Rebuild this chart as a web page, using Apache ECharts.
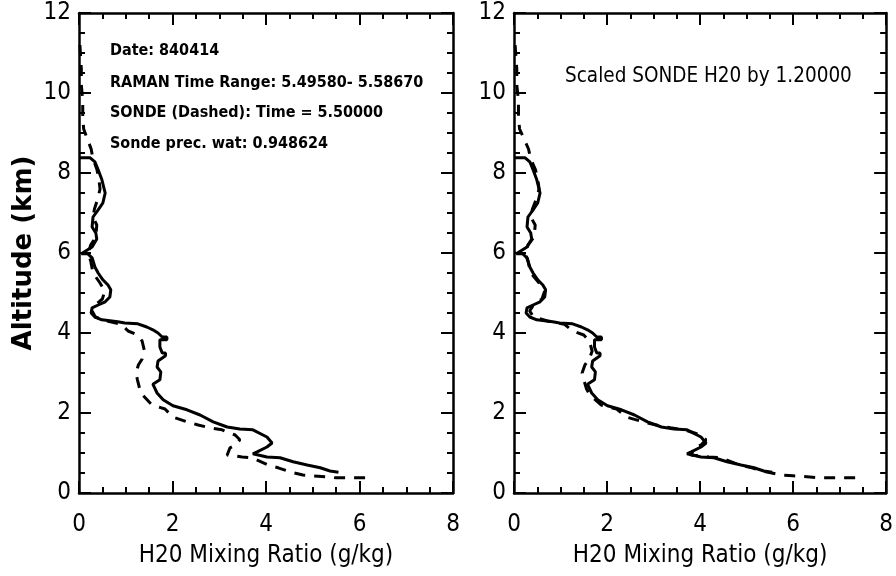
<!DOCTYPE html>
<html>
<head>
<meta charset="utf-8">
<script src="https://cdn.jsdelivr.net/npm/echarts@6/dist/echarts.min.js"></script>
<style>
html,body{margin:0;padding:0;background:#fff;}
#chart{width:896px;height:576px;}
</style>
</head>
<body>
<div id="chart"></div>
<script>
// ---- data ----
const xRange = [0, 8];
const yRange = [0, 12];
const tickStep = 2;

// RAMAN lidar water vapour mixing ratio (solid), g/kg vs altitude km
const ramanH2O = [0.00,0.24,0.34,0.41,0.49,0.56,0.51,0.41,0.30,0.28,0.36,0.38,0.28,0.05,0.19,0.28,0.34,0.41,0.51,0.62,0.68,0.66,0.56,0.41,0.28,0.26,0.34,0.49,0.83,0.98,1.26,1.45,1.58,1.69,1.78,1.88,1.88,1.73,1.73,1.78,1.85,1.85,1.69,1.67,1.75,1.73,1.58,1.67,1.80,2.01,2.31,2.59,2.87,3.17,3.44,3.72,4.02,4.13,4.02,3.81,3.72,4.02,4.30,4.58,4.88,5.16,5.37,5.55];
const ramanAlt = [8.38,8.38,8.28,8.08,7.83,7.50,7.25,7.08,6.90,6.65,6.50,6.35,6.15,5.98,5.98,5.88,5.65,5.50,5.33,5.20,5.08,4.90,4.78,4.70,4.63,4.50,4.40,4.33,4.28,4.25,4.23,4.15,4.08,4.00,3.90,3.90,3.83,3.83,3.65,3.50,3.50,3.43,3.30,3.15,3.03,2.83,2.72,2.50,2.33,2.18,2.08,1.95,1.78,1.65,1.60,1.58,1.40,1.25,1.15,1.03,0.98,0.90,0.88,0.78,0.70,0.63,0.55,0.52];

// SONDE water vapour mixing ratio (dashed)
const sondeH2O = [0.02,0.05,0.05,0.08,0.08,0.10,0.18,0.26,0.30,0.38,0.42,0.45,0.40,0.33,0.30,0.38,0.36,0.25,0.20,0.25,0.30,0.45,0.55,0.50,0.35,0.28,0.35,0.60,0.90,1.05,1.25,1.35,1.40,1.35,1.27,1.22,1.25,1.30,1.36,1.56,1.84,2.01,2.31,2.55,2.80,3.06,3.34,3.44,3.35,3.23,3.17,3.49,3.70,4.04,4.26,4.51,4.79,5.00,5.30,5.50,5.75,6.00,6.27];
const sondeAlt = [11.2,10.6,10.2,9.8,9.4,9.1,8.85,8.6,8.35,8.1,7.9,7.6,7.35,7.1,6.9,6.7,6.4,6.2,6.0,5.8,5.5,5.25,5.05,4.85,4.7,4.55,4.4,4.3,4.22,4.05,3.95,3.8,3.55,3.35,3.2,3.0,2.83,2.6,2.45,2.2,2.1,1.9,1.78,1.7,1.63,1.58,1.45,1.33,1.2,1.13,0.95,0.9,0.88,0.7,0.63,0.53,0.45,0.43,0.4,0.38,0.38,0.38,0.38];
const sondeScale = 1.2;

const leftNotes = ["Date: 840414", "RAMAN Time Range: 5.49580- 5.58670", "SONDE (Dashed): Time = 5.50000", "Sonde prec. wat: 0.948624"];
const rightNote = "Scaled SONDE H20 by 1.20000";
const xTitle = "H20 Mixing Ratio (g/kg)";
const yTitle = "Altitude (km)";

// ---- build ----
const pairs = (xs, ys, k) => xs.map((v, i) => [v * (k || 1), ys[i]]);
const NARROW = "'DejaVu Sans Condensed','Liberation Sans Narrow',sans-serif";
const lineW = 2.5;

function xAx(gi, bottom) {
  return {
    type: 'value', gridIndex: gi, min: xRange[0], max: xRange[1], interval: tickStep,
    position: bottom ? 'bottom' : 'top',
    name: bottom ? xTitle : '', nameLocation: 'middle', nameGap: 51,
    nameTextStyle: {color: '#000', fontFamily: NARROW, fontSize: 24},
    axisLine: {show: true, onZero: false, lineStyle: {color: '#000', width: lineW}},
    axisTick: {show: true, inside: true, length: 12, lineStyle: {color: '#000', width: 2}},
    minorTick: {show: true, splitNumber: 4, length: 6, lineStyle: {color: '#000', width: 2}},
    axisLabel: {show: bottom, color: '#000', fontFamily: NARROW, fontSize: 24, margin: 20},
    splitLine: {show: false}
  };
}
function yAx(gi, left, named) {
  return {
    type: 'value', gridIndex: gi, min: yRange[0], max: yRange[1], interval: tickStep,
    position: left ? 'left' : 'right',
    name: named ? yTitle : '', nameLocation: 'middle', nameGap: 42, nameRotate: 90,
    nameTextStyle: {color: '#000', fontFamily: "'DejaVu Sans',sans-serif", fontWeight: 'bold', fontSize: 26},
    axisLine: {show: true, onZero: false, lineStyle: {color: '#000', width: lineW}},
    axisTick: {show: true, inside: true, length: 12, lineStyle: {color: '#000', width: 2}},
    minorTick: {show: true, splitNumber: 4, length: 6, lineStyle: {color: '#000', width: 2}},
    axisLabel: {show: left, color: '#000', fontFamily: NARROW, fontSize: 24, margin: 8},
    splitLine: {show: false}
  };
}
function solid(xi, yi, data) {
  return {type: 'line', xAxisIndex: xi, yAxisIndex: yi, data: data, showSymbol: false, symbol: 'none',
    animation: false, lineStyle: {color: '#000', width: 3, type: 'solid'}, z: 3};
}
function dashed(xi, yi, data) {
  return {type: 'line', xAxisIndex: xi, yAxisIndex: yi, data: data, showSymbol: false, symbol: 'none',
    animation: false, lineStyle: {color: '#000', width: 3, type: [11, 9]}, z: 2};
}

const chart = echarts.init(document.getElementById('chart'), null, {renderer: 'canvas'});
const noteFont = "bold 16px 'DejaVu Sans Condensed','Liberation Sans Narrow',sans-serif";
const noteYs = [50, 82, 112, 143];
chart.setOption({
  animation: false,
  backgroundColor: '#fff',
  grid: [
    {left: 79, top: 13, width: 374, height: 480, containLabel: false},
    {left: 514, top: 13, width: 373, height: 480, containLabel: false}
  ],
  xAxis: [xAx(0, true), xAx(0, false), xAx(1, true), xAx(1, false)],
  yAxis: [yAx(0, true, true), yAx(0, false, false), yAx(1, true, false), yAx(1, false, false)],
  series: [
    solid(0, 0, pairs(ramanH2O, ramanAlt)),
    dashed(0, 0, pairs(sondeH2O, sondeAlt)),
    solid(2, 2, pairs(ramanH2O, ramanAlt)),
    dashed(2, 2, pairs(sondeH2O, sondeAlt, sondeScale))
  ],
  graphic: leftNotes.map((t, i) => ({type: 'text', left: 110, top: noteYs[i] - 7, style: {text: t, fill: '#000', font: noteFont}}))
    .concat([{type: 'text', left: 565, top: 66, style: {text: rightNote, fill: '#000', font: "20.5px 'DejaVu Sans Condensed','Liberation Sans Narrow',sans-serif"}}])
});
</script>
</body>
</html>
